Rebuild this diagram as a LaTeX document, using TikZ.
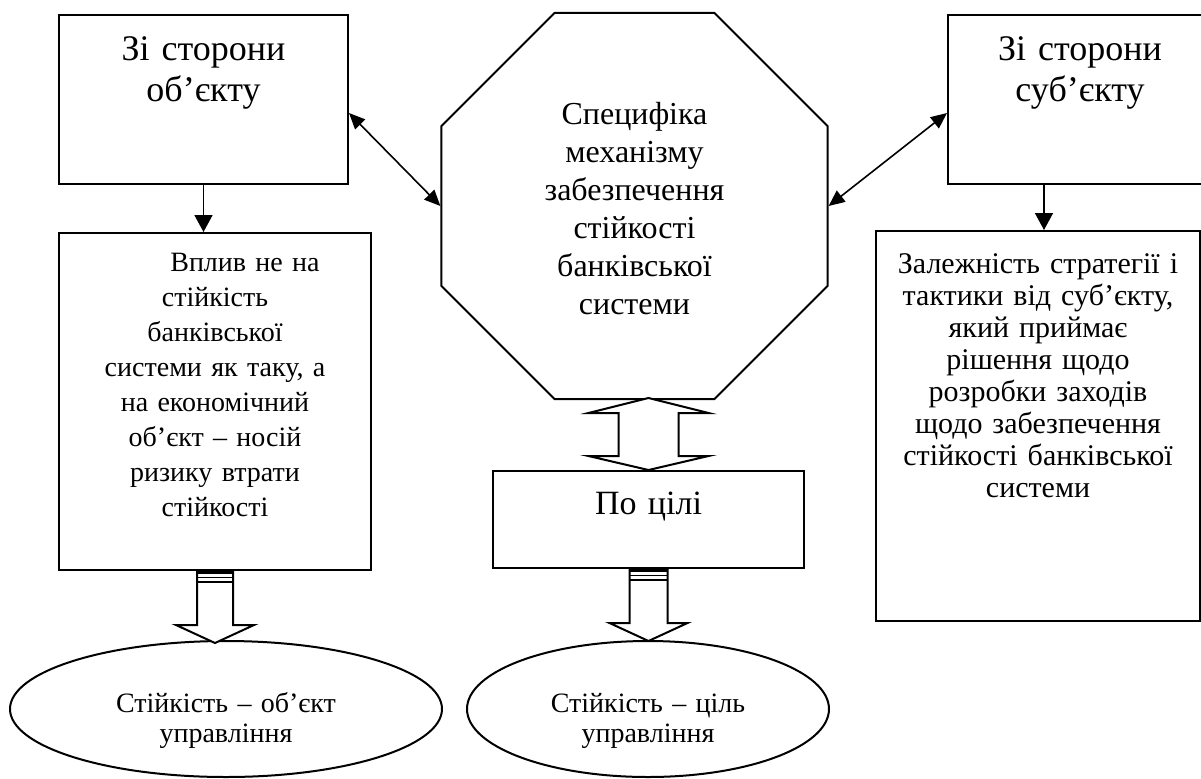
\documentclass[tikz,border=0pt]{standalone}
\usepackage{fontspec}
\setmainfont{Liberation Serif}
\usetikzlibrary{shapes.geometric}
\usetikzlibrary{arrows.meta}
\usetikzlibrary{positioning}

\begin{document}
\begin{tikzpicture}[
    x=0.5pt,
    y=-0.5pt,
    box/.style={
        draw,
        line width=1pt,
        inner sep=0pt,
        align=center
    },
    link/.style={
        {Triangle[length=8pt,width=7pt]}-{Triangle[length=8pt,width=7pt]},
        line width=0.8pt
    },
    down/.style={
        -{Triangle[length=8.5pt,width=9pt]},
        line width=0.8pt
    },
    block/.style={
        draw,
        fill=white,
        line width=1pt
    }
]

    \clip (0,0) rectangle (1201,778);

    \node[box,anchor=north west,minimum width=144.5pt,text width=140pt,
        text height=22.5pt,text depth=62pt,font=\fontsize{18pt}{20.5pt}\selectfont] (obj)
    at (58,14)
    {
        Зі сторони\\об’єкту
    };

    \node[box,minimum width=156pt,text width=150pt,
        text height=19pt,text depth=149.5pt,font=\fontsize{14pt}{17.5pt}\selectfont] (objeffect)
    [below=23.5pt of obj.south west,anchor=north west]
    {
        \hspace*{30pt}Вплив не на\\стійкість\\банківської\\системи як таку, а\\на економічний\\об’єкт – носій\\ризику втрати\\стійкості
    };

    \node[box,regular polygon,regular polygon sides=8,minimum size=209pt,
        text width=110pt,text height=11.5pt,text depth=93pt,
        font=\fontsize{16pt}{19pt}\selectfont] (mech)
    at (634.5,206)
    {
        Специфіка\\механізму\\забезпечення\\стійкості\\банківської\\системи
    };

    \node[box,anchor=north west,minimum width=132pt,text width=128pt,
        text height=22.5pt,text depth=62pt,font=\fontsize{18pt}{20.5pt}\selectfont] (subj)
    at (947,14)
    {
        Зі сторони\\суб’єкту
    };

    \node[box,anchor=north west,minimum width=162pt,text width=160pt,
        text height=21pt,text depth=174pt,font=\fontsize{15pt}{16pt}\selectfont] (subjdep)
    at (875,230)
    {
        Залежність стратегії і\\тактики від суб’єкту,\\який приймає\\рішення щодо\\розробки заходів\\щодо забезпечення\\стійкості банківської\\системи
    };

    \node[box,anchor=north west,minimum width=155.5pt,text width=150pt,
        text height=21.5pt,text depth=27pt,font=\fontsize{17pt}{19pt}\selectfont] (goal)
    at (492,470)
    {
        По цілі
    };

    \node[box,ellipse,minimum width=216pt,minimum height=68pt,text width=110pt,
        text height=12pt,text depth=9pt,font=\fontsize{14pt}{15pt}\selectfont] (objctrl)
    at (226,709)
    {
        Стійкість – об’єкт\\управління
    };

    \node[box,ellipse,minimum width=181pt,minimum height=68pt,text width=110pt,
        text height=12pt,text depth=9pt,font=\fontsize{14pt}{15pt}\selectfont] (goalctrl)
    at (648,709)
    {
        Стійкість – ціль\\управління
    };


    \draw[down]
    (obj.south) -- (obj.south |- objeffect.north);

    \draw[down]
    ([xshift=3pt]subjdep.north |- subj.south) -- ([xshift=3pt]subjdep.north);

    \draw[link]
    ([yshift=-6.75pt]obj.east) -- (mech.west);

    \draw[link]
    (mech.east) -- ([yshift=-6.75pt]subj.west);

    \draw[block]
    (goal.north)
        -- ++(60,-14) -- ++(-30,0) -- ++(0,-43) -- ++(30,0)
        -- ++(-60,-15)
        -- ++(-60,15) -- ++(30,0) -- ++(0,43) -- ++(-30,0)
        -- cycle;

    \draw[block]
    (objeffect.south) ++(-18,0)
        -- ++(0,54) -- ++(-21,0) -- ++(39,18) -- ++(39,-18) -- ++(-21,0) -- ++(0,-54)
        -- cycle;
    \fill ([xshift=-9pt]objeffect.south) rectangle ++(36,3);
    \draw[line width=0.7pt] ([xshift=-9pt,yshift=-3.2pt]objeffect.south) -- ++(36,0);
    \draw[line width=0.8pt] ([xshift=-9pt,yshift=-5.4pt]objeffect.south) -- ++(36,0);

    \draw[block]
    (goal.south) ++(-19,0)
        -- ++(0,54) -- ++(-20,0) -- ++(39,18) -- ++(39,-18) -- ++(-20,0) -- ++(0,-54)
        -- cycle;
    \fill ([xshift=-9.5pt]goal.south) rectangle ++(38,3);
    \draw[line width=0.7pt] ([xshift=-9.5pt,yshift=-3.2pt]goal.south) -- ++(38,0);
    \draw[line width=0.8pt] ([xshift=-9.5pt,yshift=-5.4pt]goal.south) -- ++(38,0);

\end{tikzpicture}
\end{document}
